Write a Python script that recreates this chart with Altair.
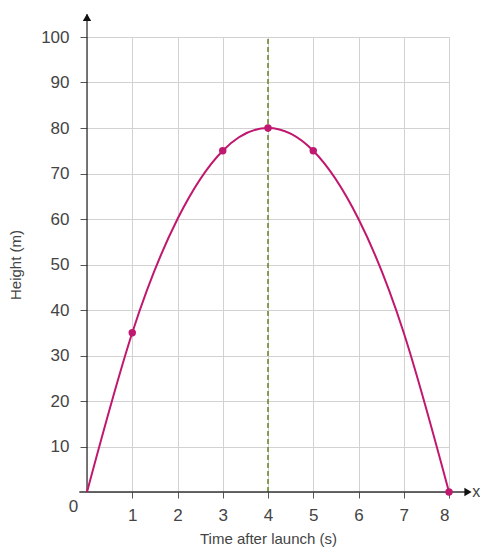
import altair as alt
import pandas as pd

# Curve values
times = [0, 1, 2, 3, 4, 5, 6, 7, 8]
heights = [0, 35, 60, 75, 80, 75, 60, 35, 0]

# Marked points
pt_times = [1, 3, 4, 5, 8]
pt_heights = [35, 75, 80, 75, 0]

x_ticks = [1, 2, 3, 4, 5, 6, 7, 8]
y_ticks = [10, 20, 30, 40, 50, 60, 70, 80, 90, 100]
axis_of_symmetry = 4

FONT = "Liberation Sans, Arial, sans-serif"
CURVE = "#c0176f"
GREEN = "#6d8a2e"
AXIS = "#333333"

curve_df = pd.DataFrame({"t": times, "h": heights})
pts_df = pd.DataFrame({"t": pt_times, "h": pt_heights})

xs = alt.Scale(domain=[0, 8], nice=False, zero=False)
ys = alt.Scale(domain=[0, 100], nice=False, zero=False)

xax = alt.Axis(values=x_ticks, grid=True, gridColor="#d2d2d2", gridWidth=1,
               domain=False, tickColor="#555", tickSize=6, tickWidth=1,
               labelFont=FONT, labelFontSize=17, labelColor="#444",
               labelPadding=9, title="Time after launch (s)",
               titleFont=FONT, titleFontSize=15, titleFontWeight="normal",
               titleColor="#444", titlePadding=8)
yax = alt.Axis(values=y_ticks, grid=True, gridColor="#d2d2d2", gridWidth=1,
               domain=False, tickColor="#555", tickSize=7, tickWidth=1,
               labelFont=FONT, labelFontSize=17, labelColor="#444",
               labelPadding=11, title="Height (m)",
               titleFont=FONT, titleFontSize=15, titleFontWeight="normal",
               titleColor="#444", titlePadding=17)

base = alt.Chart(curve_df)

grid = base.mark_line(opacity=0).encode(
    x=alt.X("t:Q", scale=xs, axis=xax),
    y=alt.Y("h:Q", scale=ys, axis=yax),
)

sym_df = pd.DataFrame({"t": [axis_of_symmetry], "y0": [0], "y1": [100]})
sym = alt.Chart(sym_df).mark_rule(color=GREEN, strokeWidth=1.6, strokeDash=[5, 3]).encode(
    x=alt.X("t:Q", scale=xs), y=alt.Y("y0:Q", scale=ys), y2="y1:Q"
)

# axis lines with arrows
yaxis_df = pd.DataFrame({"t": [0], "y0": [0], "y1": [105]})
yline = alt.Chart(yaxis_df).mark_rule(color=AXIS, strokeWidth=1.3, clip=False).encode(
    x=alt.X("t:Q", scale=xs), y=alt.Y("y0:Q", scale=ys), y2="y1:Q"
)
xaxis_df = pd.DataFrame({"x0": [-0.17], "x1": [8.42], "h": [0]})
xline = alt.Chart(xaxis_df).mark_rule(color=AXIS, strokeWidth=1.3, clip=False).encode(
    x=alt.X("x0:Q", scale=xs), x2="x1:Q", y=alt.Y("h:Q", scale=ys)
)
yarrow = alt.Chart(pd.DataFrame({"t": [0], "h": [104.3]})).mark_point(
    shape="triangle-up", filled=True, color="#111", size=70, opacity=1, clip=False
).encode(x=alt.X("t:Q", scale=xs), y=alt.Y("h:Q", scale=ys))
xarrow = alt.Chart(pd.DataFrame({"t": [8.42], "h": [0]})).mark_point(
    shape="triangle-right", filled=True, color="#111", size=70, opacity=1, clip=False
).encode(x=alt.X("t:Q", scale=xs), y=alt.Y("h:Q", scale=ys))

xlabel = alt.Chart(pd.DataFrame({"t": [8.6], "h": [0], "s": ["x"]})).mark_text(
    font=FONT, fontSize=16, color="#444", baseline="middle", align="center", clip=False
).encode(x=alt.X("t:Q", scale=xs), y=alt.Y("h:Q", scale=ys), text="s:N")
zero = alt.Chart(pd.DataFrame({"t": [-0.3], "h": [-3.2], "s": ["0"]})).mark_text(
    font=FONT, fontSize=17, color="#444", baseline="middle", align="center", clip=False
).encode(x=alt.X("t:Q", scale=xs), y=alt.Y("h:Q", scale=ys), text="s:N")

curve = base.mark_line(color=CURVE, strokeWidth=2, interpolate="natural", clip=False).encode(
    x=alt.X("t:Q", scale=xs), y=alt.Y("h:Q", scale=ys)
)
points = alt.Chart(pts_df).mark_circle(color=CURVE, size=55, opacity=1, clip=False).encode(
    x=alt.X("t:Q", scale=xs), y=alt.Y("h:Q", scale=ys)
)

chart = alt.layer(grid, sym, yline, xline, yarrow, xarrow, curve, points, xlabel, zero).properties(
    width=362, height=455,
    autosize=alt.AutoSizeParams(type="none"),
    padding={"left": 79, "top": 29, "right": 31, "bottom": 58},
).configure_view(stroke=None).configure(background="white")

chart.save("out.html", embed_options={"renderer": "svg", "actions": False})
